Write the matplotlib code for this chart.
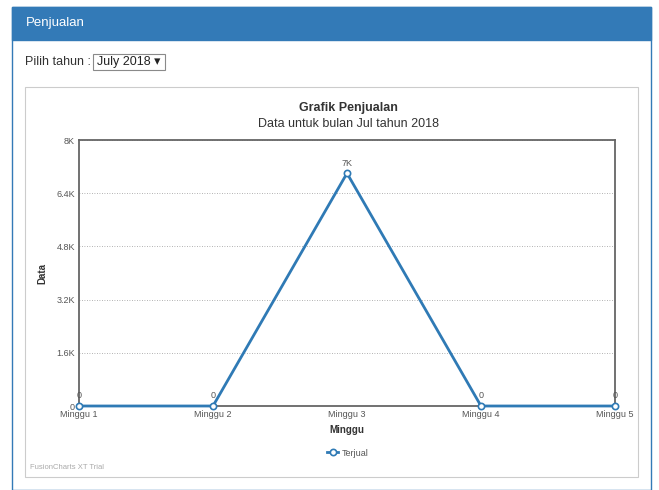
import matplotlib.pyplot as plt
from matplotlib.patches import Rectangle
from matplotlib.ticker import FuncFormatter

plt.rcParams['font.family'] = ['Liberation Sans', 'DejaVu Sans']

minggu = ['Minggu 1', 'Minggu 2', 'Minggu 3', 'Minggu 4', 'Minggu 5']
terjual = [0, 0, 7000, 0, 0]
y_ticks = [0, 1600, 3200, 4800, 6400, 8000]

W, H = 659, 490
fig = plt.figure(figsize=(W / 100, H / 100), dpi=100)
fig.patch.set_facecolor('white')

def px(x, y):
    # pixel coords (top-left origin) -> figure fraction
    return x / W, 1 - y / H

# panel + header
x0, y0 = px(12, 490)
fig.patches.append(Rectangle((x0, y0), 639 / W, 483 / H, transform=fig.transFigure,
                             facecolor='white', edgecolor='#337ab7', lw=1, zorder=0))
x0, y0 = px(12, 40)
fig.patches.append(Rectangle((x0, y0), 639 / W, 33 / H, transform=fig.transFigure,
                             facecolor='#337ab7', edgecolor='#337ab7', lw=1, zorder=0))
fig.text(*px(26, 23), 'Penjualan', color='white', fontsize=9.5, va='center')

# selector
fig.text(*px(25, 62), 'Pilih tahun :', color='#333333', fontsize=9, va='center')
x0, y0 = px(93, 70)
fig.patches.append(Rectangle((x0, y0), 72 / W, 16 / H, transform=fig.transFigure,
                             facecolor='white', edgecolor='#8a8a8a', lw=0.8, zorder=0))
fig.text(*px(97, 62), 'July 2018 \u25be', color='#222222', fontsize=9, va='center')

# chart frame
x0, y0 = px(25, 477)
fig.patches.append(Rectangle((x0, y0), 613 / W, 390 / H, transform=fig.transFigure,
                             facecolor='white', edgecolor='#cccccc', lw=0.8, zorder=0))

fig.text(*px(348, 108), 'Grafik Penjualan', fontsize=9, fontweight='bold',
         color='#333333', ha='center', va='center')
fig.text(*px(348, 124), 'Data untuk bulan Jul tahun 2018', fontsize=9,
         color='#333333', ha='center', va='center')

ax = fig.add_axes([79 / W, 1 - 406 / H, 536 / W, 266 / H])
ax.set_zorder(5)
ax.patch.set_alpha(0)
x = list(range(len(minggu)))
ax.plot(x, terjual, color='#2f7ab5', lw=2, marker='o', markersize=4.5,
        markerfacecolor='white', markeredgecolor='#2f7ab5', markeredgewidth=1.2,
        clip_on=False, zorder=3, label='Terjual')
for xi, v in zip(x, terjual):
    lab = f'{v // 1000}K' if v >= 1000 else str(v)
    ax.annotate(lab, (xi, v), xytext=(0, 4), textcoords='offset points',
                ha='center', va='bottom', fontsize=6.5, color='#555555')

ax.set_xlim(0, len(minggu) - 1)
ax.set_ylim(0, 8000)
ax.set_yticks(y_ticks)
ax.yaxis.set_major_formatter(FuncFormatter(
    lambda v, p: '0' if v == 0 else (f'{v / 1000:g}K')))
ax.set_xticks(x)
ax.set_xticklabels(minggu)
ax.tick_params(length=0, labelsize=6.5, colors='#555555', pad=3)
ax.grid(axis='y', linestyle=(0, (1, 2)), color='#999999', lw=0.6)
for s in ax.spines.values():
    s.set_color('#666666')
    s.set_linewidth(1.3)

ax.set_xlabel('Minggu', fontsize=7, fontweight='bold', color='#333333', labelpad=4)
ax.set_ylabel('Data', fontsize=7, fontweight='bold', color='#333333', labelpad=6)

leg = fig.legend(loc='center', bbox_to_anchor=px(348, 453), frameon=False,
                 fontsize=6.5, handlelength=1.2, handletextpad=0.4)
for t in leg.get_texts():
    t.set_color('#555555')

fig.text(*px(30, 467), 'FusionCharts XT Trial', fontsize=5.5, color='#aaaaaa', va='center')

fig.savefig('out.png', dpi=100)
